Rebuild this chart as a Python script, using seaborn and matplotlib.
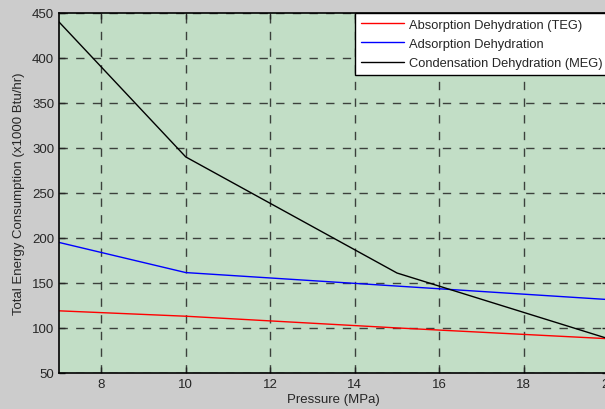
import pandas as pd
import numpy as np
import matplotlib
matplotlib.use('Agg')
import matplotlib.pyplot as plt
import seaborn as sns

# Values
pressure = [7, 10, 15, 20]
teg = [119, 113, 100, 88]           # Absorption Dehydration (TEG)
adsorption = [195, 161.5, 146.5, 131.5]
meg = [440, 290, 161, 88]           # Condensation Dehydration (MEG)

names = ['Absorption Dehydration (TEG)', 'Adsorption Dehydration', 'Condensation Dehydration (MEG)']
colors = ['#ff0000', '#0000ff', '#000000']

df = pd.DataFrame({
    'Pressure': pressure * 3,
    'Energy': teg + adsorption + meg,
    'Process': [names[0]] * 4 + [names[1]] * 4 + [names[2]] * 4,
})

sns.set_style('ticks')
plt.rcParams['font.family'] = ['Liberation Sans', 'DejaVu Sans']

fig = plt.figure(figsize=(6.05, 4.10), dpi=100, facecolor='#cccccc')
# axes runs past the right edge, as in the reference
ax = fig.add_axes([0.0975, 0.088, 0.908, 0.878])
ax.set_facecolor('#c2dec6')

sns.lineplot(data=df, x='Pressure', y='Energy', hue='Process', hue_order=names,
             palette=dict(zip(names, colors)), linewidth=1.0, ax=ax)

ax.set_xlim(7, 20)
ax.set_ylim(50, 450)
ax.set_xticks([8, 10, 12, 14, 16, 18, 20])
ax.set_yticks(np.arange(50, 451, 50))
ax.grid(True, color='#1a1a1a', linestyle=(0, (6, 6)), linewidth=1.0, alpha=0.8)
ax.set_axisbelow(True)
ax.tick_params(direction='in', top=True, right=True, length=4, labelsize=9.5, width=1)
for s in ax.spines.values():
    s.set_color('black')
    s.set_linewidth(1.2)

ax.set_xlabel('Pressure (MPa)', fontsize=9.5, labelpad=2)
ax.set_ylabel('Total Energy Consumption (x1000 Btu/hr)', fontsize=9.5, labelpad=5)

leg = ax.legend(loc='upper right', bbox_to_anchor=(1.0, 1.0), borderaxespad=0.0,
                fontsize=9.3, frameon=True, fancybox=False, handlelength=3.3,
                handletextpad=0.4, labelspacing=0.55, borderpad=0.45)
leg.get_frame().set_edgecolor('black')
leg.get_frame().set_facecolor('white')
leg.get_frame().set_alpha(1.0)
leg.get_frame().set_linewidth(1.0)

fig.savefig('out.png', dpi=100, facecolor=fig.get_facecolor())
